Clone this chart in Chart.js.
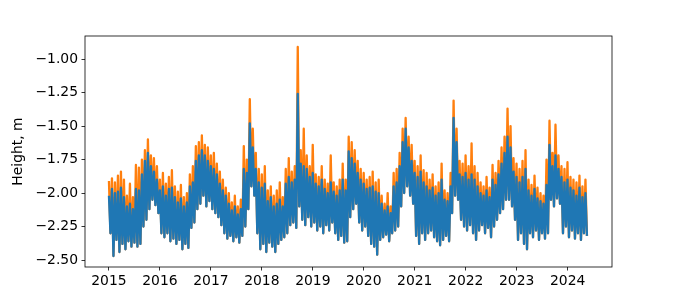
<!DOCTYPE html>
<html><head><meta charset="utf-8">
<script src="https://cdn.jsdelivr.net/npm/chart.js@4"></script>
<style>html,body{margin:0;padding:0;background:#fff}</style>
</head><body>
<canvas id="c" width="680" height="300"></canvas>
<script>
// Sample dates: one sample every ~3 weeks from 2015.0 (decimal years)
const sampleStart = 2015.0;
const sampleStepYears = 0.0588;

// Blue series (drawn on top): high and low envelope of each sample window, metres
const blueHigh = [
-2.02,-1.97,-2.00,-1.99,-1.96,-2.03,-2.10,-2.08,-2.12,-1.97,
-1.98,-1.86,-1.76,-1.70,-1.80,-1.84,-1.90,-1.98,-1.95,-2.02,
-1.97,-1.96,-2.03,-2.07,-2.04,-2.10,-2.07,-1.95,-1.92,-1.76,
-1.72,-1.68,-1.72,-1.76,-1.80,-1.82,-1.86,-1.93,-1.98,-2.02,
-2.08,-2.13,-2.10,-2.16,-2.12,-1.82,-1.85,-1.48,-1.66,-1.82,
-1.92,-1.96,-1.93,-2.06,-2.03,-2.10,-2.08,-2.05,-2.10,-1.93,
-1.88,-1.92,-1.90,-1.26,-1.78,-1.80,-1.82,-1.88,-1.85,-1.93,
-1.95,-1.90,-1.97,-2.00,-1.92,-1.99,-2.02,-1.98,-1.90,-1.98,
-1.69,-1.74,-1.78,-1.85,-1.90,-1.93,-1.97,-1.96,-1.95,-1.99,
-2.00,-2.08,-2.13,-2.10,-2.15,-1.95,-1.92,-1.80,-1.62,-1.52,
-1.66,-1.76,-1.85,-1.88,-1.84,-1.92,-1.95,-1.98,-1.96,-2.02,
-2.00,-1.90,-2.05,-2.06,-1.95,-1.44,-1.62,-1.86,-1.88,-1.85,
-1.90,-1.86,-1.90,-1.95,-2.00,-2.02,-1.98,-2.03,-1.90,-1.94,
-1.86,-1.78,-1.70,-1.58,-1.66,-1.84,-1.88,-1.92,-1.88,-1.82,
-1.98,-2.02,-1.97,-2.04,-2.06,-2.08,-1.94,-1.64,-1.80,-1.72,
-1.82,-1.88,-1.92,-1.90,-1.96,-1.98,-2.02,-1.96,-2.03,-2.00
];
const blueLow = [
-2.30,-2.47,-2.35,-2.44,-2.38,-2.42,-2.36,-2.40,-2.37,-2.40,
-2.38,-2.25,-2.20,-2.12,-2.05,-2.09,-2.15,-2.30,-2.33,-2.30,
-2.36,-2.34,-2.38,-2.35,-2.42,-2.38,-2.41,-2.26,-2.22,-2.12,
-2.08,-2.02,-2.10,-2.06,-2.12,-2.15,-2.18,-2.24,-2.30,-2.34,
-2.32,-2.36,-2.33,-2.37,-2.32,-2.25,-2.12,-1.95,-2.02,-2.30,
-2.42,-2.38,-2.44,-2.37,-2.40,-2.44,-2.38,-2.35,-2.33,-2.30,
-2.24,-2.22,-2.26,-2.10,-2.20,-2.24,-2.18,-2.25,-2.22,-2.28,
-2.25,-2.30,-2.24,-2.28,-2.22,-2.30,-2.35,-2.32,-2.37,-2.36,
-2.18,-2.12,-2.08,-2.22,-2.28,-2.25,-2.32,-2.38,-2.40,-2.46,
-2.35,-2.33,-2.31,-2.36,-2.30,-2.28,-2.25,-2.10,-2.00,-1.95,
-2.02,-2.08,-2.32,-2.38,-2.30,-2.35,-2.30,-2.28,-2.33,-2.36,
-2.39,-2.35,-2.32,-2.36,-2.15,-2.02,-2.05,-2.20,-2.25,-2.28,
-2.24,-2.30,-2.35,-2.28,-2.24,-2.30,-2.26,-2.33,-2.25,-2.20,
-2.15,-2.12,-2.05,-2.05,-2.10,-2.20,-2.35,-2.30,-2.38,-2.42,
-2.30,-2.33,-2.28,-2.35,-2.30,-2.34,-2.30,-2.05,-2.10,-2.04,
-2.08,-2.30,-2.25,-2.33,-2.28,-2.34,-2.30,-2.35,-2.30,-2.32
];
// Orange series (drawn underneath): high envelope of each sample window, metres
const orangeHigh = [
-1.91,-1.89,-1.92,-1.87,-1.84,-1.90,-2.02,-1.93,-2.03,-1.79,
-1.81,-1.75,-1.68,-1.60,-1.72,-1.74,-1.80,-1.90,-1.85,-1.93,
-1.88,-1.83,-1.95,-1.99,-1.94,-2.03,-2.00,-1.86,-1.80,-1.65,
-1.62,-1.57,-1.64,-1.66,-1.72,-1.70,-1.78,-1.84,-1.90,-1.96,
-2.00,-2.07,-2.02,-2.10,-2.05,-1.65,-1.75,-1.30,-1.52,-1.70,
-1.82,-1.86,-1.80,-1.98,-1.95,-2.02,-1.98,-1.92,-2.03,-1.82,
-1.74,-1.84,-1.80,-0.91,-1.68,-1.52,-1.72,-1.80,-1.64,-1.86,
-1.88,-1.80,-1.90,-1.93,-1.72,-1.92,-1.95,-1.90,-1.78,-1.90,
-1.58,-1.62,-1.68,-1.76,-1.82,-1.85,-1.90,-1.88,-1.84,-1.92,
-1.90,-2.02,-2.08,-2.00,-2.10,-1.85,-1.82,-1.70,-1.52,-1.44,
-1.58,-1.64,-1.76,-1.80,-1.72,-1.83,-1.85,-1.90,-1.86,-1.95,
-1.92,-1.78,-1.98,-2.00,-1.85,-1.31,-1.52,-1.76,-1.78,-1.72,
-1.80,-1.63,-1.80,-1.85,-1.92,-1.95,-1.88,-1.96,-1.79,-1.85,
-1.76,-1.66,-1.58,-1.37,-1.50,-1.74,-1.78,-1.82,-1.76,-1.68,
-1.90,-1.94,-1.87,-1.96,-2.00,-2.02,-1.75,-1.46,-1.70,-1.49,
-1.72,-1.80,-1.82,-1.77,-1.88,-1.90,-1.92,-1.87,-1.95,-1.90
];

const xTickValues = [2015,2016,2017,2018,2019,2020,2021,2022,2023,2024];
const yTickValues = [-2.50,-2.25,-2.00,-1.75,-1.50,-1.25,-1.00];
const yAxisTitle = 'Height, m';

function buildPoints(highs, lows) {
  const pts = [];
  for (let i = 0; i < highs.length; i++) {
    const t = sampleStart + i * sampleStepYears;
    pts.push({x: t, y: highs[i]});
    pts.push({x: t + sampleStepYears / 2, y: lows[i]});
  }
  return pts;
}

const FONT = {family: 'DejaVu Sans', size: 13.9};

const framePlugin = {
  id: 'frame',
  afterDraw(chart) {
    const {ctx, chartArea: a} = chart;
    ctx.save();
    ctx.strokeStyle = '#000';
    ctx.lineWidth = 0.8;
    ctx.strokeRect(a.left, a.top, a.right - a.left, a.bottom - a.top);
    ctx.restore();
  }
};

new Chart(document.getElementById('c'), {
  type: 'line',
  data: {
    datasets: [
      {data: buildPoints(blueHigh, blueLow), borderColor: '#1f77b4', borderWidth: 2.3,
       pointRadius: 0, tension: 0, borderJoinStyle: 'round', fill: false},
      {data: buildPoints(orangeHigh, blueLow), borderColor: '#ff7f0e', borderWidth: 2.3,
       pointRadius: 0, tension: 0, borderJoinStyle: 'round', fill: false}
    ]
  },
  options: {
    responsive: false,
    devicePixelRatio: 1,
    animation: false,
    events: [],
    layout: {padding: {top: 36, right: 68, left: 0, bottom: 0}},
    plugins: {legend: {display: false}, tooltip: {enabled: false}},
    scales: {
      x: {
        type: 'linear', min: 2014.53, max: 2024.87,
        afterBuildTicks(s) { s.ticks = xTickValues.map(v => ({value: v})); },
        afterFit(s) { s.height = 33; },
        border: {display: false},
        grid: {drawOnChartArea: false, drawTicks: true, tickLength: 3.5, color: '#000', lineWidth: 0.8},
        ticks: {color: '#000', font: FONT, padding: 3, maxRotation: 0, autoSkip: false,
                callback: v => String(v)}
      },
      y: {
        type: 'linear', min: -2.552, max: -0.828,
        afterBuildTicks(s) { s.ticks = yTickValues.map(v => ({value: v})); },
        afterFit(s) { s.width = 85; },
        border: {display: false},
        grid: {drawOnChartArea: false, drawTicks: true, tickLength: 3.5, color: '#000', lineWidth: 0.8},
        ticks: {color: '#000', font: FONT, padding: 3.5, autoSkip: false,
                callback: v => (v < 0 ? '\u2212' : '') + Math.abs(v).toFixed(2)},
        title: {display: true, text: yAxisTitle, color: '#000', font: FONT, padding: {top: 10, bottom: 0}}
      }
    }
  },
  plugins: [framePlugin]
});
</script>
</body></html>
